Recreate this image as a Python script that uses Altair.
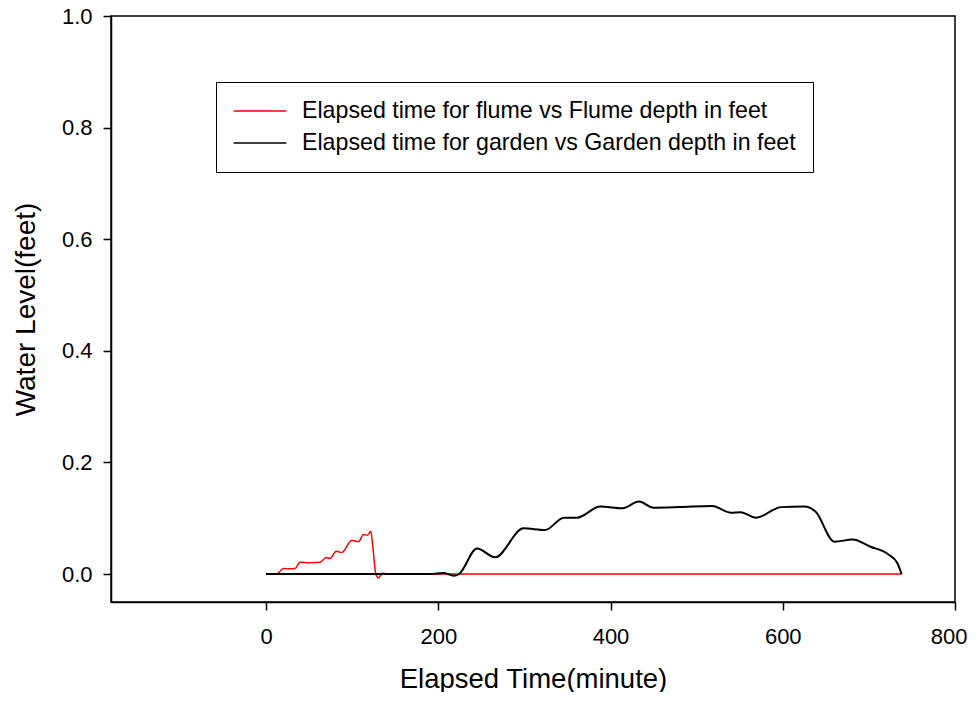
import altair as alt
import pandas as pd

FLUME = "Elapsed time for flume vs Flume depth in feet"
GARDEN = "Elapsed time for garden vs Garden depth in feet"

flume_time = [0, 12, 14.3, 20.2, 27, 33.7, 39.5, 50, 62.8, 69.8, 74.4, 81.4, 88,
              99.6, 107.4, 113.2, 117.8, 121.7, 124, 127.5, 130.6, 135.7, 140, 738]
flume_depth = [0, 0, 0.002, 0.0101, 0.0095, 0.0102, 0.0214, 0.0205, 0.0212, 0.0298,
               0.028, 0.041, 0.0387, 0.0607, 0.058, 0.071, 0.0696, 0.0768, 0.049,
               0.0, -0.007, 0.002, 0.0, 0.0]

garden_time = [0, 190, 206, 218, 224, 245, 266, 299, 324, 346, 361, 388, 414, 433,
               450, 480, 518, 540, 551, 569, 598, 625, 638, 660, 681, 702, 722, 733, 738]
garden_depth = [0, 0, 0.002, -0.003, 0, 0.046, 0.030, 0.082, 0.079, 0.101, 0.101,
                0.121, 0.118, 0.130, 0.119, 0.120, 0.122, 0.110, 0.111, 0.101, 0.120,
                0.121, 0.112, 0.058, 0.062, 0.049, 0.036, 0.020, 0.0]

x_ticks = [0, 200, 400, 600, 800]
y_ticks = [0.0, 0.2, 0.4, 0.6, 0.8, 1.0]

df_f = pd.DataFrame({"t": flume_time, "d": flume_depth, "s": FLUME})
df_g = pd.DataFrame({"t": garden_time, "d": garden_depth, "s": GARDEN})

FONT = "Liberation Sans"

color = alt.Color(
    "s:N",
    scale=alt.Scale(domain=[FLUME, GARDEN], range=["#ff0000", "#000000"]),
    legend=alt.Legend(
        title=None, orient="none", legendX=105, legendY=66,
        symbolType="M-2.4,0H2.4", symbolSize=484, symbolStrokeWidth=1.5,
        symbolOffset=15,
        labelFontSize=23.2, labelFont=FONT, labelColor="black", labelOffset=30,
        padding=17, rowPadding=8, strokeColor="black", fillColor="white",
        labelLimit=0,
    ),
)

x = alt.X(
    "t:Q",
    scale=alt.Scale(domain=[-180, 800], nice=False, zero=False),
    axis=alt.Axis(values=x_ticks, title="Elapsed Time(minute)", format="d",
                  tickSize=8, labelPadding=16, labelFontSize=22, labelFlush=True,
                  labelFlushOffset=12,
                  titleFontSize=27.5, titleX=422, titleY=85, titleBaseline="alphabetic",
                  titleAlign="center"),
)
y = alt.Y(
    "d:Q",
    scale=alt.Scale(domain=[-0.05, 1.0], nice=False, zero=False),
    axis=alt.Axis(values=y_ticks, title="Water Level(feet)", format=".1f",
                  tickSize=8, labelPadding=11, labelFontSize=22, labelFlush=False,
                  titleFontSize=28, titleX=-71, titleY=293, titleBaseline="bottom",
                  titleAlign="center", titleAngle=270),
)

red = alt.Chart(df_f).mark_line(interpolate="monotone", strokeWidth=1.5).encode(
    x=x, y=y, color=color)
black = alt.Chart(df_g).mark_line(interpolate="monotone", strokeWidth=2).encode(
    x=x, y=y, color=color)

chart = alt.layer(red, black).properties(
    width=844, height=586,
    autosize=alt.AutoSizeParams(type="none"),
    padding={"left": 103, "top": 8, "right": 13, "bottom": 90},
).configure_view(
    stroke="black", strokeWidth=1.5
).configure_axis(
    grid=False, domainColor="black", domainWidth=1.5, tickColor="black",
    tickWidth=1.5, labelColor="black", titleColor="black", labelFont=FONT,
    titleFont=FONT, titleFontWeight="normal",
)

chart.save("out.html", embed_options={"renderer": "svg", "actions": False})
